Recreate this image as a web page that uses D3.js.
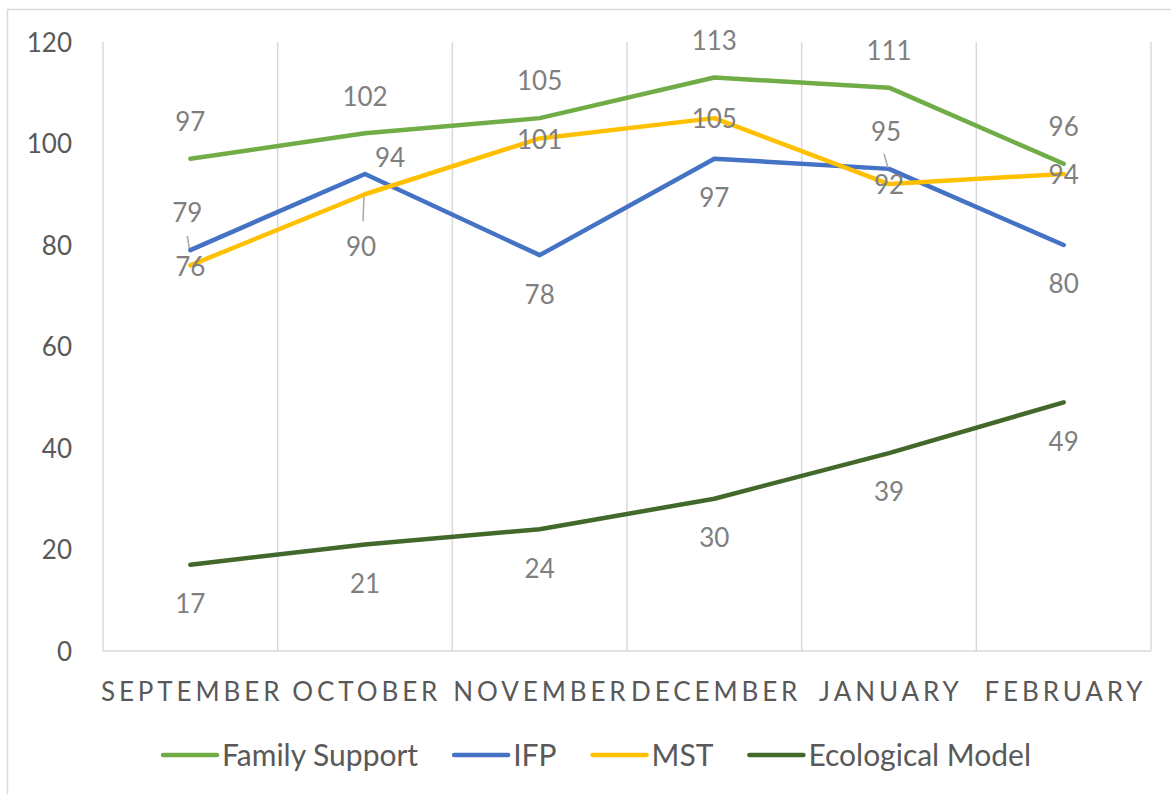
<!DOCTYPE html>
<html>
<head>
<meta charset="utf-8">
<style>
    body { margin: 0; background: #fff; }
    svg { display: block; }
    text { font-family: Lato, "Open Sans", sans-serif; }
    .tick-label { fill: #595959; font-size: 26px; }
    .month { fill: #595959; font-size: 26px; letter-spacing: 3.9px; }
    .dlabel { fill: #7f7f7f; font-size: 26px; }
    .legend text { fill: #595959; font-size: 30px; }
</style>
<script src="https://cdn.jsdelivr.net/npm/d3@7"></script>
</head>
<body>
<svg id="chart" width="1171" height="794"></svg>
<script>
// data
var months = ["SEPTEMBER", "OCTOBER", "NOVEMBER", "DECEMBER", "JANUARY", "FEBRUARY"];
var yTicks = [0, 20, 40, 60, 80, 100, 120];

var familySupport = [97, 102, 105, 113, 111, 96];
var ifp = [79, 94, 78, 97, 95, 80];
var mst = [76, 90, 101, 105, 92, 94];
var ecological = [17, 21, 24, 30, 39, 49];

// where Excel put each data label
var familyPlace = ["above", "above", "above", "above", "above", "above"];
var ifpPlace = ["above", "upright", "below", "below", "above", "below"];
var mstPlace = ["center", "below", "center", "center", "center", "center"];
var ecoPlace = ["below", "below", "below", "below", "below", "below"];

var series = [
    { name: "Family Support", values: familySupport, place: familyPlace, color: "#70ad47" },
    { name: "IFP", values: ifp, place: ifpPlace, color: "#4472c4" },
    { name: "MST", values: mst, place: mstPlace, color: "#ffc000" },
    { name: "Ecological Model", values: ecological, place: ecoPlace, color: "#43682b" }
];

var svg = d3.select("#chart");

// outer chart border
svg.append("rect")
    .attr("x", 7.5).attr("y", 9.5)
    .attr("width", 1200).attr("height", 800)
    .attr("fill", "#fff").attr("stroke", "#d9d9d9").attr("stroke-width", 1.5);

var x = d3.scaleBand().domain(months).range([103, 1151]).padding(0);
var y = d3.scaleLinear().domain([0, 120]).range([651, 42]);
var cx = function (m) { return x(m) + x.bandwidth() / 2; };

// vertical gridlines at category boundaries
var bounds = months.map(function (m) { return x(m); }).concat([x.range()[1]]);
svg.append("g").selectAll("line")
    .data(bounds).enter().append("line")
    .attr("x1", function (d) { return d; }).attr("x2", function (d) { return d; })
    .attr("y1", y(120)).attr("y2", y(0))
    .attr("stroke", "#d9d9d9").attr("stroke-width", 1.5);

// category axis line
svg.append("line")
    .attr("x1", x.range()[0]).attr("x2", x.range()[1])
    .attr("y1", y(0)).attr("y2", y(0))
    .attr("stroke", "#d9d9d9").attr("stroke-width", 1.5);

// value axis labels
var yAxis = d3.axisLeft(y).tickValues(yTicks).tickSize(0).tickPadding(0);
var yg = svg.append("g").attr("transform", "translate(72,0)").call(yAxis);
yg.select(".domain").remove();
yg.selectAll("text").attr("class", "tick-label").attr("font-size", null).attr("font-family", null)
    .attr("fill", null).attr("dy", "0.36em");

// month labels
svg.append("g").selectAll("text")
    .data(months).enter().append("text")
    .attr("class", "month")
    .attr("x", function (d) { return cx(d) + 1.8; })
    .attr("y", 701)
    .attr("text-anchor", "middle")
    .text(function (d) { return d; });

var line = d3.line()
    .x(function (d, i) { return cx(months[i]); })
    .y(function (d) { return y(d); });

// lines
svg.append("g").selectAll("path")
    .data(series).enter().append("path")
    .attr("d", function (s) { return line(s.values); })
    .attr("fill", "none")
    .attr("stroke", function (s) { return s.color; })
    .attr("stroke-width", 4.5)
    .attr("stroke-linejoin", "round")
    .attr("stroke-linecap", "round");

// data labels
var offsets = {
    above: [0, -37],
    below: [0, 39],
    center: [0, 1],
    upright: [25, -16]
};
var lab = svg.append("g");
series.forEach(function (s) {
    s.values.forEach(function (v, i) {
        var p = s.place[i];
        var o = offsets[p];
        var px = cx(months[i]), py = y(v);
        var lx = px + o[0], ly = py + o[1];
        if (s.name === "IFP" && p === "above") { lx -= 3; }
        if (s.name === "MST" && p === "below") {
            lx -= 4; ly = py + 52;
        }
        lab.append("text")
            .attr("class", "dlabel")
            .attr("x", lx).attr("y", ly)
            .attr("dy", "0.36em")
            .attr("text-anchor", "middle")
            .text(v);
    });
});

// leader lines for labels Excel moved away from their points
var leaders = [
    { s: ifp, i: 0, dx1: -3, dy1: -14, dx2: -1, dy2: -2 },
    { s: mst, i: 1, dx1: -2, dy1: 27, dx2: -1, dy2: 2 },
    { s: ifp, i: 4, dx1: -5, dy1: -15, dx2: -1, dy2: -1 }
];
svg.append("g").selectAll("line")
    .data(leaders).enter().append("line")
    .attr("x1", function (d) { return cx(months[d.i]) + d.dx1; })
    .attr("y1", function (d) { return y(d.s[d.i]) + d.dy1; })
    .attr("x2", function (d) { return cx(months[d.i]) + d.dx2; })
    .attr("y2", function (d) { return y(d.s[d.i]) + d.dy2; })
    .attr("stroke", "#a6a6a6").attr("stroke-width", 1.5);

// legend
var legend = svg.append("g").attr("class", "legend");
var items = legend.selectAll("g").data(series).enter().append("g");
items.append("line")
    .attr("x1", 0).attr("x2", 54).attr("y1", 0).attr("y2", 0)
    .attr("stroke", function (s) { return s.color; })
    .attr("stroke-width", 4.5).attr("stroke-linecap", "round");
items.append("text")
    .attr("x", 59).attr("y", 0).attr("dy", "0.36em")
    .text(function (s) { return s.name; });

var gap = 36, widths = [];
items.each(function () { widths.push(59 + d3.select(this).select("text").node().getComputedTextLength()); });
var total = d3.sum(widths) + gap * (widths.length - 1);
var start = 597 - total / 2, pos = start;
items.attr("transform", function (d, i) {
    var t = "translate(" + pos + ",755)";
    pos += widths[i] + gap;
    return t;
});
</script>
</body>
</html>
